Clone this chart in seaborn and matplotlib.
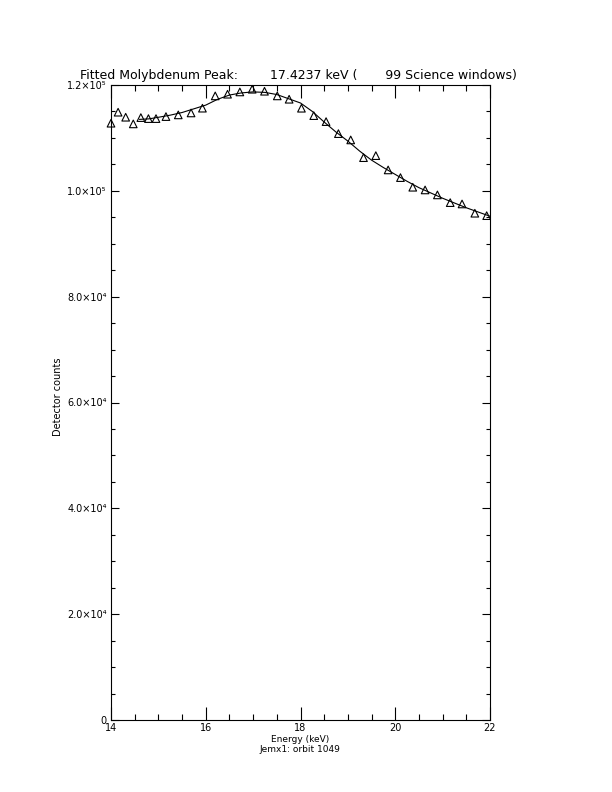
import matplotlib
matplotlib.use('Agg')
import matplotlib.pyplot as plt
import seaborn as sns
import pandas as pd
from matplotlib.ticker import MultipleLocator, FixedLocator, FixedFormatter

# measured detector counts per energy bin
energy = [14.0, 14.15, 14.31, 14.47, 14.63, 14.79, 14.95, 15.16, 15.42, 15.69,
          15.93, 16.2, 16.46, 16.72, 16.98, 17.24, 17.51, 17.76, 18.02, 18.28,
          18.54, 18.8, 19.06, 19.33, 19.59, 19.85, 20.11, 20.37, 20.63, 20.89,
          21.16, 21.41, 21.68, 21.93]
counts = [112780, 114860, 113910, 112650, 113840, 113650, 113650, 114030, 114350, 114720,
          115620, 117940, 118260, 118690, 119200, 118820, 117940, 117310, 115610, 114210,
          113080, 110810, 109620, 106270, 106650, 103950, 102500, 100680, 100170, 99230,
          97770, 97520, 95770, 95310]

# fitted peak + background
fit_energy = [14.6, 14.8, 15.0, 15.25, 15.5, 15.75, 16.0, 16.25, 16.5, 16.75,
              17.0, 17.25, 17.5, 17.75, 18.0, 18.25, 18.5, 18.75, 19.0, 19.25,
              19.5, 19.75, 20.0, 20.25, 20.5, 20.75, 21.0, 21.25, 21.5, 21.75, 22.0]
fit_counts = [113500, 113600, 113900, 114300, 114800, 115500, 116200, 117300, 118100, 118500,
              118700, 118600, 118200, 117400, 116600, 115000, 113000, 111100, 109400, 107500,
              105800, 104400, 103100, 101800, 100600, 99600, 98600, 97700, 96800, 96000, 95200]

ytick_vals = [0, 20000, 40000, 60000, 80000, 100000, 120000]
ytick_text = ['0', '2.0×10⁴', '4.0×10⁴', '6.0×10⁴', '8.0×10⁴', '1.0×10⁵', '1.2×10⁵']

title_text = 'Fitted Molybdenum Peak:        17.4237 keV (       99 Science windows)'

sns.set_style('white')
plt.rcParams['font.family'] = ['DejaVu Sans']
plt.rcParams['text.color'] = 'black'
plt.rcParams['xtick.color'] = 'black'
plt.rcParams['ytick.color'] = 'black'

fig = plt.figure(figsize=(6.12, 7.92), dpi=100)
ax = fig.add_axes([111 / 612, 72 / 792, 379 / 612, 635 / 792])

pts = pd.DataFrame({'energy': energy, 'counts': counts})
fit = pd.DataFrame({'energy': fit_energy, 'counts': fit_counts})

sns.lineplot(data=fit, x='energy', y='counts', ax=ax, color='black', linewidth=0.8,
             sort=True, estimator=None)
sns.scatterplot(data=pts, x='energy', y='counts', ax=ax, marker='^', s=30,
                facecolor='none', edgecolor='black', linewidth=0.8, clip_on=False, zorder=3)

ax.set_xlim(14, 22)
ax.set_ylim(0, 120000)
ax.set_xlabel('')
ax.set_ylabel('')

ax.xaxis.set_major_locator(MultipleLocator(2))
ax.xaxis.set_minor_locator(MultipleLocator(0.5))
ax.yaxis.set_major_locator(FixedLocator(ytick_vals))
ax.yaxis.set_major_formatter(FixedFormatter(ytick_text))
ax.yaxis.set_minor_locator(MultipleLocator(5000))

for s in ax.spines.values():
    s.set_linewidth(0.8)
    s.set_color('black')

ax.tick_params(axis='x', which='major', direction='in', length=9.1, width=0.8,
               top=True, bottom=True, labelsize=7, pad=2, colors='black')
ax.tick_params(axis='x', which='minor', direction='in', length=4.6, width=0.8,
               top=True, bottom=True, colors='black')
ax.tick_params(axis='y', which='major', direction='in', length=5.5, width=0.8,
               left=True, right=True, labelsize=7, pad=3, colors='black')
ax.tick_params(axis='y', which='minor', direction='in', length=2.7, width=0.8,
               left=True, right=True, colors='black')

fig.text(80 / 612, 1 - 75 / 792, title_text, ha='left', va='center', fontsize=9, color='black')
fig.text(300 / 612, 1 - 739 / 792, 'Energy (keV)', ha='center', va='center', fontsize=6.5,
         color='black')
fig.text(300 / 612, 1 - 749 / 792, 'Jemx1: orbit 1049', ha='center', va='center', fontsize=6.5,
         color='black')
fig.text(58 / 612, 1 - 397 / 792, 'Detector counts', ha='center', va='center',
         rotation=90, fontsize=7, color='black')

fig.savefig('out.png', dpi=100, facecolor='white')
